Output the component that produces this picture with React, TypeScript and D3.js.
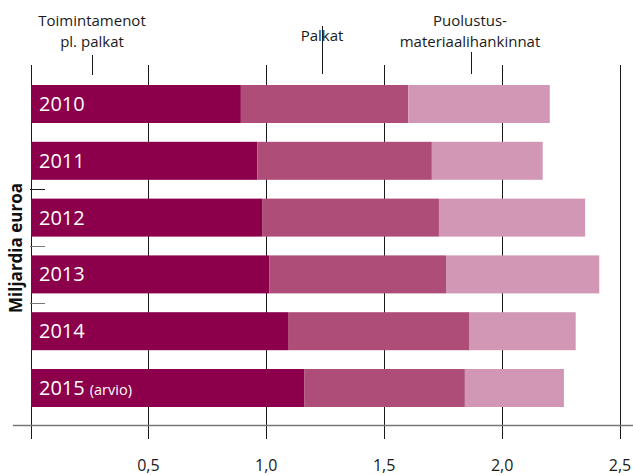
import React from "react";
import * as d3 from "d3";

const years = ["2010", "2011", "2012", "2013", "2014", "2015"];
const yearNotes = ["", "", "", "", "", "(arvio)"];
const operating = [0.89, 0.96, 0.98, 1.01, 1.09, 1.16];
const salaries = [0.71, 0.74, 0.75, 0.75, 0.77, 0.68];
const procurement = [0.60, 0.47, 0.62, 0.65, 0.45, 0.42];
const seriesKeys = ["operating", "salaries", "procurement"];
const seriesColors = ["#8c004b", "#ad4d78", "#d197b4"];
const xTicks = [0, 0.5, 1.0, 1.5, 2.0, 2.5];
const yAxisTitle = "Miljardia euroa";

const W = 633;
const H = 475;
const FONT = "'Open Sans', 'Noto Sans', sans-serif";

export default function App() {
  const x = d3.scaleLinear().domain([0, 2.5]).range([30.5, 620]);
  const y = d3.scaleBand().domain(years).range([85, 407]).paddingInner(0.331).paddingOuter(0);

  const table = years.map((yr, i) => ({
    year: yr,
    operating: operating[i],
    salaries: salaries[i],
    procurement: procurement[i],
  }));
  const stack = d3.stack<any>().keys(seriesKeys)(table);

  const gridTop = 65;
  const axisY = 425.5;
  const gridBottom = 439;

  const fmt = (v: number) => v.toFixed(1).replace(".", ",");

  const leftTicks = [1, 2, 3].map((i) => {
    const a = (y(years[i]) as number) + y.bandwidth();
    const b = y(years[i + 1]) as number;
    return (a + b) / 2;
  });

  return (
    <svg width={W} height={H} style={{ position: "absolute", left: 0, top: 0, fontFamily: FONT }}>
      <rect width={W} height={H} fill="#fff" />
      {xTicks.map((t) => (
        <line key={t} x1={Math.round(x(t)) + 0.5} x2={Math.round(x(t)) + 0.5} y1={gridTop} y2={gridBottom} stroke="#1a1a1a" strokeWidth={1} />
      ))}
      {leftTicks.map((ty, i) => (
        <line key={i} x1={30} x2={45} y1={Math.round(ty) + 0.5} y2={Math.round(ty) + 0.5} stroke={i === 0 ? "#1a1a1a" : "#777"} strokeWidth={1} />
      ))}
      {stack.map((s, si) =>
        s.map((d, i) => (
          <rect
            key={si + "-" + i}
            x={x(d[0]) + 0.5}
            y={y(years[i])}
            width={x(d[1]) - x(d[0])}
            height={y.bandwidth()}
            fill={seriesColors[si]}
          />
        ))
      )}
      {years.map((yr, i) => (
        <text key={yr} x={39} y={(y(yr) as number) + y.bandwidth() / 2 + 7} fill="#fff" fontSize={20}>
          {yr}
          {yearNotes[i] ? <tspan fontSize={14.5} dx={5}>{yearNotes[i]}</tspan> : null}
        </text>
      ))}
      <line x1={13} x2={W} y1={axisY} y2={axisY} stroke="#777" strokeWidth={1.5} />
      {xTicks.slice(1).map((t) => (
        <text key={t} x={x(t)} y={471} textAnchor="middle" fontSize={16} fill="#1a1a1a">
          {fmt(t)}
        </text>
      ))}
      <text transform={`translate(22,248) rotate(-90)`} textAnchor="middle" fontSize={17} fontWeight="bold" fill="#111">
        {yAxisTitle}
      </text>
      <g fontSize={15} fill="#1a1a1a" textAnchor="middle">
        <text x={92} y={26}>Toimintamenot</text>
        <text x={92} y={47}>pl. palkat</text>
        <line x1={92.5} x2={92.5} y1={55} y2={75} stroke="#1a1a1a" />
        <text x={322} y={41}>Palkat</text>
        <line x1={322.5} x2={322.5} y1={26} y2={74} stroke="#1a1a1a" />
        <text x={470} y={26}>Puolustus-</text>
        <text x={470} y={47}>materiaalihankinnat</text>
        <line x1={471.5} x2={471.5} y1={52} y2={74} stroke="#1a1a1a" />
      </g>
    </svg>
  );
}
